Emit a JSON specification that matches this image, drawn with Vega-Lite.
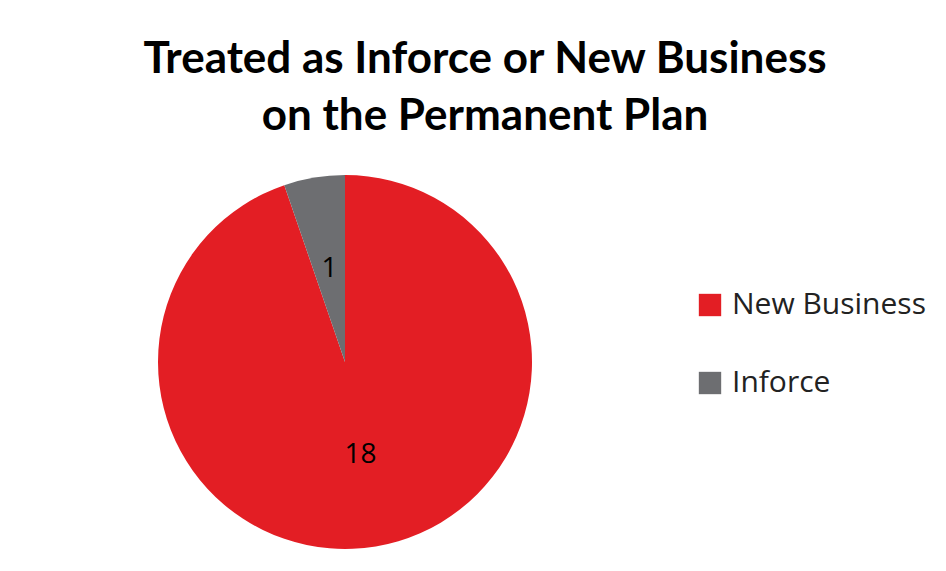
{
  "$schema": "https://vega.github.io/schema/vega-lite/v6.json",
  "autosize": "none",
  "width": 374,
  "height": 374,
  "padding": {"left": 158, "top": 175, "right": 414, "bottom": 22},
  "background": "white",
  "title": {
    "text": ["Treated as Inforce or New Business", "on the Permanent Plan"],
    "font": "Lato",
    "fontSize": 44,
    "fontWeight": "bold",
    "color": "#000000",
    "lineHeight": 57,
    "anchor": "middle",
    "frame": "group",
    "dx": 140,
    "offset": 36
  },
  "data": {
    "values": [
      {"category": "New Business", "count": 18, "rank": 1},
      {"category": "Inforce", "count": 1, "rank": 2}
    ]
  },
  "encoding": {
    "theta": {"field": "count", "type": "quantitative", "stack": true},
    "order": {"field": "rank", "type": "quantitative"},
    "color": {
      "field": "category",
      "type": "nominal",
      "sort": ["New Business", "Inforce"],
      "scale": {"domain": ["New Business", "Inforce"], "range": ["#E31E24", "#6D6E71"]},
      "legend": {
        "title": null,
        "orient": "none",
        "legendX": 537,
        "legendY": 115,
        "symbolType": "square",
        "symbolSize": 500,
        "symbolStrokeWidth": 0,
        "labelFont": "Open Sans",
        "labelFontSize": 30,
        "labelColor": "#222222",
        "labelOffset": 7,
        "rowPadding": 48,
        "labelLimit": 400
      }
    }
  },
  "layer": [
    {"mark": {"type": "arc", "stroke": null}},
    {
      "mark": {"type": "text", "radius": 94, "font": "Open Sans", "fontSize": 28, "color": "#000000"},
      "encoding": {"text": {"field": "count", "type": "quantitative"}, "color": {"value": "#000000"}}
    }
  ],
  "config": {"view": {"stroke": null}}
}
